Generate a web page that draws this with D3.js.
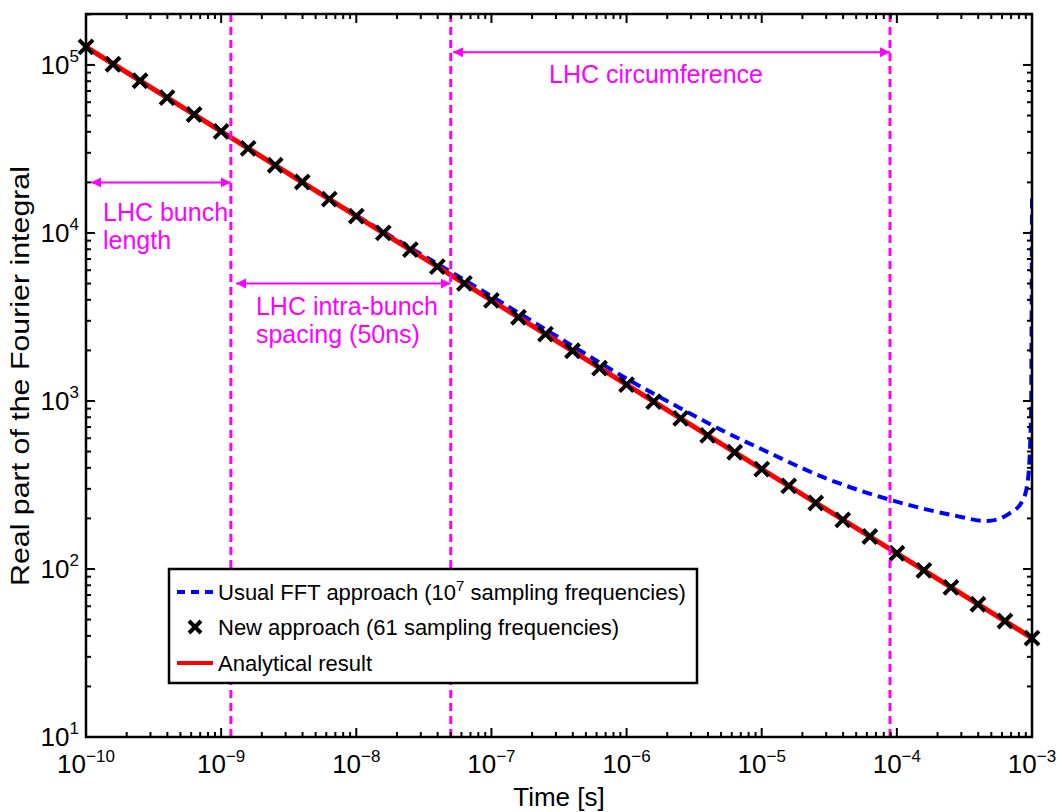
<!DOCTYPE html>
<html lang="en">
<head>
<meta charset="utf-8">
<title>Fourier integral</title>
<script src="https://d3js.org/d3.v7.min.js"></script>
<style>
  body { margin: 0; background: #fff; }
  text { font-family: "Liberation Sans", Arial, Helvetica, sans-serif; }
</style>
</head>
<body>
<svg id="chart" width="1057" height="812"></svg>
<script>
// ---- data ----
// new approach: sampled points, 5 per decade
const crossT = [1e-10, 1.585e-10, 2.512e-10, 3.981e-10, 6.310e-10,
                1e-9, 1.585e-9, 2.512e-9, 3.981e-9, 6.310e-9,
                1e-8, 1.585e-8, 2.512e-8, 3.981e-8, 6.310e-8,
                1e-7, 1.585e-7, 2.512e-7, 3.981e-7, 6.310e-7,
                1e-6, 1.585e-6, 2.512e-6, 3.981e-6, 6.310e-6,
                1e-5, 1.585e-5, 2.512e-5, 3.981e-5, 6.310e-5,
                1e-4, 1.585e-4, 2.512e-4, 3.981e-4, 6.310e-4, 1e-3];
const crossV = [128000, 101000, 80500, 63900, 50700,
                40200, 31900, 25300, 20100, 15900,
                12600, 10000, 7960, 6310, 5010,
                3970, 3150, 2500, 1990, 1570,
                1250, 991, 787, 624, 495,
                393, 312, 247, 196, 156,
                124, 98, 77.8, 61.7, 49.0, 38.8];

// analytical result
const analyticT = [1e-10, 1e-9, 1e-8, 1e-7, 1e-6, 1e-5, 1e-4, 1e-3];
const analyticV = [128000, 40200, 12600, 3970, 1250, 393, 124, 38.8];

// usual FFT approach
const fftT = [1e-10, 1e-9, 1e-8, 5.02e-8, 1e-7, 4.3e-7, 1e-6, 2.5e-6, 5e-6, 1e-5,
              3e-5, 8.9e-5, 2.6e-4, 4.65e-4, 6.87e-4, 8.58e-4, 9.33e-4, 9.84e-4, 1e-3];
const fftV = [128000, 40300, 12700, 5860, 4200, 2046, 1358, 906, 673, 516,
              346, 258, 209, 193, 215, 258, 339, 849, 16400];

// annotations
const vlineT = [1.18e-9, 5e-8, 8.9e-5];
const arrowT0 = [1.09e-10, 1.29e-9, 5.2e-8];
const arrowT1 = [1.18e-9, 5.0e-8, 8.9e-5];
const arrowV = [2.0e4, 5.0e3, 1.19e5];
const noteT = [1.336e-10, 1.81e-9, 2.67e-7];
const noteV = [11790, 3250, 78200];
const noteLines = [["LHC bunch", "length"], ["LHC intra-bunch", "spacing (50ns)"], ["LHC circumference"]];

const legendLabels = ["Usual FFT approach (10", "New approach (61 sampling frequencies)", "Analytical result"];

// ---- layout ----
const svg = d3.select("#chart");
const W = 1057, H = 812;
const m = {left: 86, top: 14, right: 25, bottom: 75};
const iw = W - m.left - m.right, ih = H - m.top - m.bottom;

const x = d3.scaleLog().domain([1e-10, 1e-3]).range([m.left, m.left + iw]);
const y = d3.scaleLog().domain([10, 2.01e5]).range([m.top + ih, m.top]);

const magenta = "#ff00ff";

svg.append("defs").append("clipPath").attr("id", "clip")
  .append("rect").attr("x", m.left).attr("y", m.top).attr("width", iw).attr("height", ih);

const defs = svg.select("defs");
defs.append("marker").attr("id", "ah").attr("viewBox", "0 0 10 10")
  .attr("refX", 10).attr("refY", 5).attr("markerWidth", 10).attr("markerHeight", 11)
  .attr("markerUnits", "userSpaceOnUse").attr("orient", "auto-start-reverse")
  .append("path").attr("d", "M0,0 L10,5 L0,10 Z").attr("fill", magenta);

const plot = svg.append("g").attr("clip-path", "url(#clip)");

// FFT dashed
const lineF = d3.line().x((d, i) => x(fftT[i])).y(d => y(d)).curve(d3.curveMonotoneX);
plot.append("path").attr("d", lineF(fftV))
  .attr("fill", "none").attr("stroke", "#0000ff").attr("stroke-width", 4)
  .attr("stroke-dasharray", "10,6");

// analytical red
const lineA = d3.line().x((d, i) => x(analyticT[i])).y(d => y(d));
plot.append("path").attr("d", lineA(analyticV))
  .attr("fill", "none").attr("stroke", "#ff0000").attr("stroke-width", 5);

// crosses
const crossPath = s => `M${-s},${-s}L${s},${s}M${-s},${s}L${s},${-s}`;
svg.append("g").selectAll("path").data(crossV).join("path")
  .attr("transform", (d, i) => `translate(${x(crossT[i])},${y(d)})`)
  .attr("d", crossPath(7))
  .attr("stroke", "#000").attr("stroke-width", 4).attr("fill", "none");

// vertical magenta lines
svg.append("g").selectAll("line").data(vlineT).join("line")
  .attr("x1", d => x(d)).attr("x2", d => x(d))
  .attr("y1", m.top).attr("y2", m.top + ih)
  .attr("stroke", magenta).attr("stroke-width", 3).attr("stroke-dasharray", "8,5");

// arrows
svg.append("g").selectAll("line").data(arrowV).join("line")
  .attr("x1", (d, i) => x(arrowT0[i])).attr("x2", (d, i) => x(arrowT1[i]))
  .attr("y1", d => y(d)).attr("y2", d => y(d))
  .attr("stroke", magenta).attr("stroke-width", 2)
  .attr("marker-start", "url(#ah)").attr("marker-end", "url(#ah)");

// notes
const notes = svg.append("g").selectAll("text").data(noteLines).join("text")
  .attr("x", (d, i) => x(noteT[i])).attr("y", (d, i) => y(noteV[i]))
  .attr("fill", magenta).attr("font-size", 25);
notes.selectAll("tspan").data(d => d).join("tspan")
  .attr("x", function() { return this.parentNode.getAttribute("x"); })
  .attr("dy", (d, i) => i === 0 ? 0 : 28)
  .text(d => d);

// ---- axes box and ticks ----
const axG = svg.append("g");
axG.append("rect").attr("x", m.left).attr("y", m.top).attr("width", iw).attr("height", ih)
  .attr("fill", "none").attr("stroke", "#000").attr("stroke-width", 2.5);

const isMajor = v => Math.abs(Math.log10(v) - Math.round(Math.log10(v))) < 1e-6;
const bottomY = m.top + ih, rightX = m.left + iw;

x.ticks().forEach(t => {
  const len = isMajor(t) ? 9 : 5;
  const px = x(t);
  axG.append("line").attr("x1", px).attr("x2", px).attr("y1", bottomY).attr("y2", bottomY - len)
    .attr("stroke", "#000").attr("stroke-width", 2);
  axG.append("line").attr("x1", px).attr("x2", px).attr("y1", m.top).attr("y2", m.top + len)
    .attr("stroke", "#000").attr("stroke-width", 2);
  if (isMajor(t)) {
    const e = Math.round(Math.log10(t));
    const tx = axG.append("text").attr("x", px).attr("y", bottomY + 36)
      .attr("text-anchor", "middle").attr("font-size", 26);
    tx.append("tspan").text("10");
    tx.append("tspan").attr("dy", -11).attr("font-size", 17).text("\u2212" + Math.abs(e));
  }
});

y.ticks().filter(t => t <= y.domain()[1]).forEach(t => {
  const len = isMajor(t) ? 9 : 5;
  const py = y(t);
  axG.append("line").attr("x1", m.left).attr("x2", m.left + len).attr("y1", py).attr("y2", py)
    .attr("stroke", "#000").attr("stroke-width", 2);
  axG.append("line").attr("x1", rightX).attr("x2", rightX - len).attr("y1", py).attr("y2", py)
    .attr("stroke", "#000").attr("stroke-width", 2);
  if (isMajor(t)) {
    const e = Math.round(Math.log10(t));
    const tx = axG.append("text").attr("x", m.left - 7).attr("y", py + 9)
      .attr("text-anchor", "end").attr("font-size", 26);
    tx.append("tspan").text("10");
    tx.append("tspan").attr("dy", -12).attr("font-size", 17).text(e);
  }
});

// axis titles
svg.append("text").attr("x", m.left + iw / 2).attr("y", 806)
  .attr("text-anchor", "middle").attr("font-size", 26).text("Time [s]");
svg.append("text").attr("transform", "translate(29,376) rotate(-90)")
  .attr("text-anchor", "middle").attr("font-size", 26)
  .attr("textLength", 420).attr("lengthAdjust", "spacingAndGlyphs")
  .text("Real part of the Fourier integral");

// ---- legend ----
const lg = svg.append("g");
lg.append("rect").attr("x", 169).attr("y", 569).attr("width", 528).attr("height", 114)
  .attr("fill", "#fff").attr("stroke", "#000").attr("stroke-width", 2.5);
const rowY = [592, 627, 663];
lg.append("line").attr("x1", 177).attr("x2", 213).attr("y1", rowY[0]).attr("y2", rowY[0])
  .attr("stroke", "#0000ff").attr("stroke-width", 4).attr("stroke-dasharray", "8,6");
lg.append("path").attr("transform", `translate(195,${rowY[1]})`).attr("d", crossPath(6))
  .attr("stroke", "#000").attr("stroke-width", 4);
lg.append("line").attr("x1", 177).attr("x2", 213).attr("y1", rowY[2]).attr("y2", rowY[2])
  .attr("stroke", "#ff0000").attr("stroke-width", 4);
legendLabels.forEach((s, i) => {
  const tx = lg.append("text").attr("x", 218).attr("y", rowY[i] + 8).attr("font-size", 22);
  tx.append("tspan").text(s);
  if (i === 0) {
    tx.append("tspan").attr("dy", -9).attr("font-size", 15).text("7");
    tx.append("tspan").attr("dy", 9).text(" sampling frequencies)");
  }
});
</script>
</body>
</html>
